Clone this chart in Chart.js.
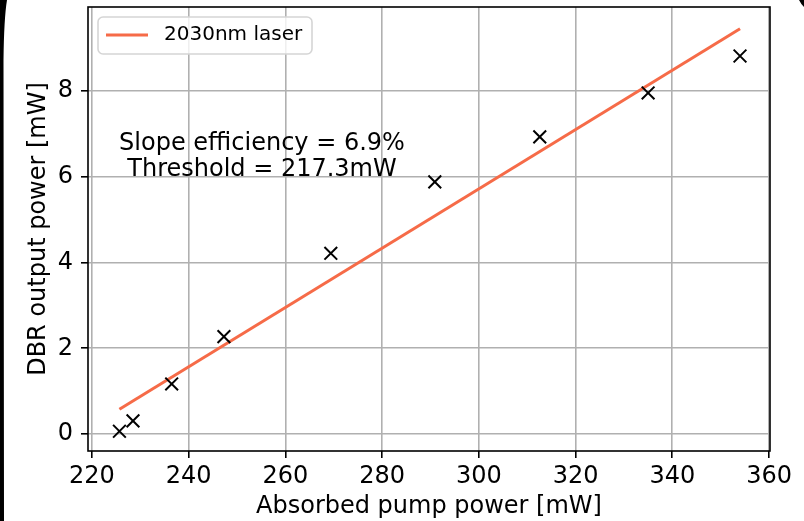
<!DOCTYPE html>
<html>
<head>
<meta charset="utf-8">
<script src="https://cdn.jsdelivr.net/npm/chart.js@4"></script>
<style>
  html, body { margin: 0; padding: 0; background: #fff; }
  canvas { display: block; }
</style>
</head>
<body>
<canvas id="grafica" width="804" height="521"></canvas>
<script>
// Mediciones: potencia absorbida vs potencia de salida
const potenciaBombeo = [225.7, 228.5, 236.5, 247.3, 269.4, 290.9, 312.6, 335.0, 354.0];
const potenciaSalida = [0.07, 0.31, 1.17, 2.27, 4.21, 5.87, 6.92, 7.94, 8.80];

// Ajuste lineal
const eficiencia = 6.9;     // %
const umbral = 217.3;       // mW

const ticksX = [220, 240, 260, 280, 300, 320, 340, 360];
const ticksY = [0, 2, 4, 6, 8];

const etiquetaLaser = '2030nm laser';
const textoAjuste = ['Slope efficiency = ' + eficiencia + '%', 'Threshold = ' + umbral + 'mW'];

const colorLaser = '#f66b48';
const fuente = 'DejaVu Sans';

// Recta de ajuste entre el primer y el último punto medido
const xAjuste = [potenciaBombeo[0], potenciaBombeo[potenciaBombeo.length - 1]];
const recta = xAjuste.map(x => ({ x: x, y: eficiencia / 100 * (x - umbral) }));

// Fondo y borde oscuro del lado izquierdo
const fondo = {
    id: 'fondo',
    beforeDraw(chart) {
        const ctx = chart.ctx;
        ctx.save();
        ctx.fillStyle = '#fff';
        ctx.fillRect(0, 0, chart.width, chart.height);
        ctx.fillStyle = '#000';
        ctx.beginPath();
        ctx.moveTo(0, 0);
        ctx.lineTo(7, 0);
        ctx.quadraticCurveTo(4, 18, 3.5, 60);
        ctx.lineTo(4, chart.height);
        ctx.lineTo(0, chart.height);
        ctx.closePath();
        ctx.fill();
        ctx.beginPath();
        ctx.moveTo(799, 0);
        ctx.quadraticCurveTo(801, 4, 804, 7);
        ctx.lineTo(804, 0);
        ctx.closePath();
        ctx.fill();
        ctx.restore();
    }
};

// Marco, leyenda y texto del ajuste
const extras = {
    id: 'extras',
    afterDraw(chart) {
        const ctx = chart.ctx;
        const a = chart.chartArea;
        ctx.save();

        // marco completo
        ctx.strokeStyle = '#000';
        ctx.lineWidth = 1.6;
        ctx.strokeRect(a.left, a.top, a.right - a.left, a.bottom - a.top);

        // leyenda
        const lx = 98, ly = 17, lw = 214, lh = 37;
        ctx.beginPath();
        ctx.roundRect(lx, ly, lw, lh, 5);
        ctx.fillStyle = 'rgba(255,255,255,0.8)';
        ctx.fill();
        ctx.strokeStyle = '#d5d5d5';
        ctx.lineWidth = 1.6;
        ctx.stroke();
        ctx.beginPath();
        ctx.moveTo(106, 35);
        ctx.lineTo(148, 35);
        ctx.strokeStyle = colorLaser;
        ctx.lineWidth = 3;
        ctx.stroke();
        ctx.fillStyle = '#000';
        ctx.font = '20px "' + fuente + '"';
        ctx.textAlign = 'left';
        ctx.textBaseline = 'middle';
        ctx.fillText(etiquetaLaser, 164, 35);

        // texto del ajuste
        ctx.font = '24px "' + fuente + '"';
        ctx.textAlign = 'center';
        ctx.textBaseline = 'alphabetic';
        ctx.fillText(textoAjuste[0], 262, 150);
        ctx.fillText(textoAjuste[1], 262, 176);
        ctx.restore();
    }
};

new Chart(document.getElementById('grafica').getContext('2d'), {
    type: 'scatter',
    data: {
        datasets: [
            {
                type: 'line',
                label: etiquetaLaser,
                data: recta,
                borderColor: colorLaser,
                borderWidth: 3,
                pointRadius: 0,
                fill: false,
                order: 2
            },
            {
                label: 'medido',
                data: potenciaBombeo.map((x, i) => ({ x: x, y: potenciaSalida[i] })),
                pointStyle: 'crossRot',
                pointRadius: 9,
                pointHoverRadius: 9,
                borderColor: '#000',
                borderWidth: 2,
                backgroundColor: '#000',
                order: 1
            }
        ]
    },
    options: {
        responsive: false,
        animation: false,
        layout: { autoPadding: false, padding: { top: 7, right: 34, left: 0, bottom: 0 } },
        plugins: {
            legend: { display: false },
            tooltip: { enabled: false }
        },
        scales: {
            x: {
                type: 'linear',
                min: 219.2,
                max: 360.2,
                afterFit(scale) {
                    scale.height = 70;
                    scale.paddingLeft = 0;
                    scale.paddingRight = 0;
                },
                afterBuildTicks(scale) { scale.ticks = ticksX.map(v => ({ value: v })); },
                grid: { color: '#b0b0b0', lineWidth: 1.6, tickColor: '#000', tickLength: 7, tickWidth: 1.6 },
                border: { display: false },
                ticks: { color: '#000', font: { family: fuente, size: 24 }, padding: 4, maxRotation: 0 },
                title: {
                    display: true,
                    text: 'Absorbed pump power [mW]',
                    color: '#000',
                    font: { family: fuente, size: 24 },
                    padding: { top: 0, bottom: 0 }
                }
            },
            y: {
                type: 'linear',
                min: -0.39,
                max: 9.94,
                afterFit(scale) {
                    scale.width = 88;
                    scale.paddingTop = 0;
                    scale.paddingBottom = 0;
                },
                afterBuildTicks(scale) { scale.ticks = ticksY.map(v => ({ value: v })); },
                grid: { color: '#b0b0b0', lineWidth: 1.6, tickColor: '#000', tickLength: 7, tickWidth: 1.6 },
                border: { display: false },
                ticks: { color: '#000', font: { family: fuente, size: 24 }, padding: 8 },
                title: {
                    display: true,
                    text: 'DBR output power [mW]',
                    color: '#000',
                    font: { family: fuente, size: 24 },
                    padding: { top: 24, bottom: 0 }
                }
            }
        }
    },
    plugins: [fondo, extras]
});
</script>
</body>
</html>
